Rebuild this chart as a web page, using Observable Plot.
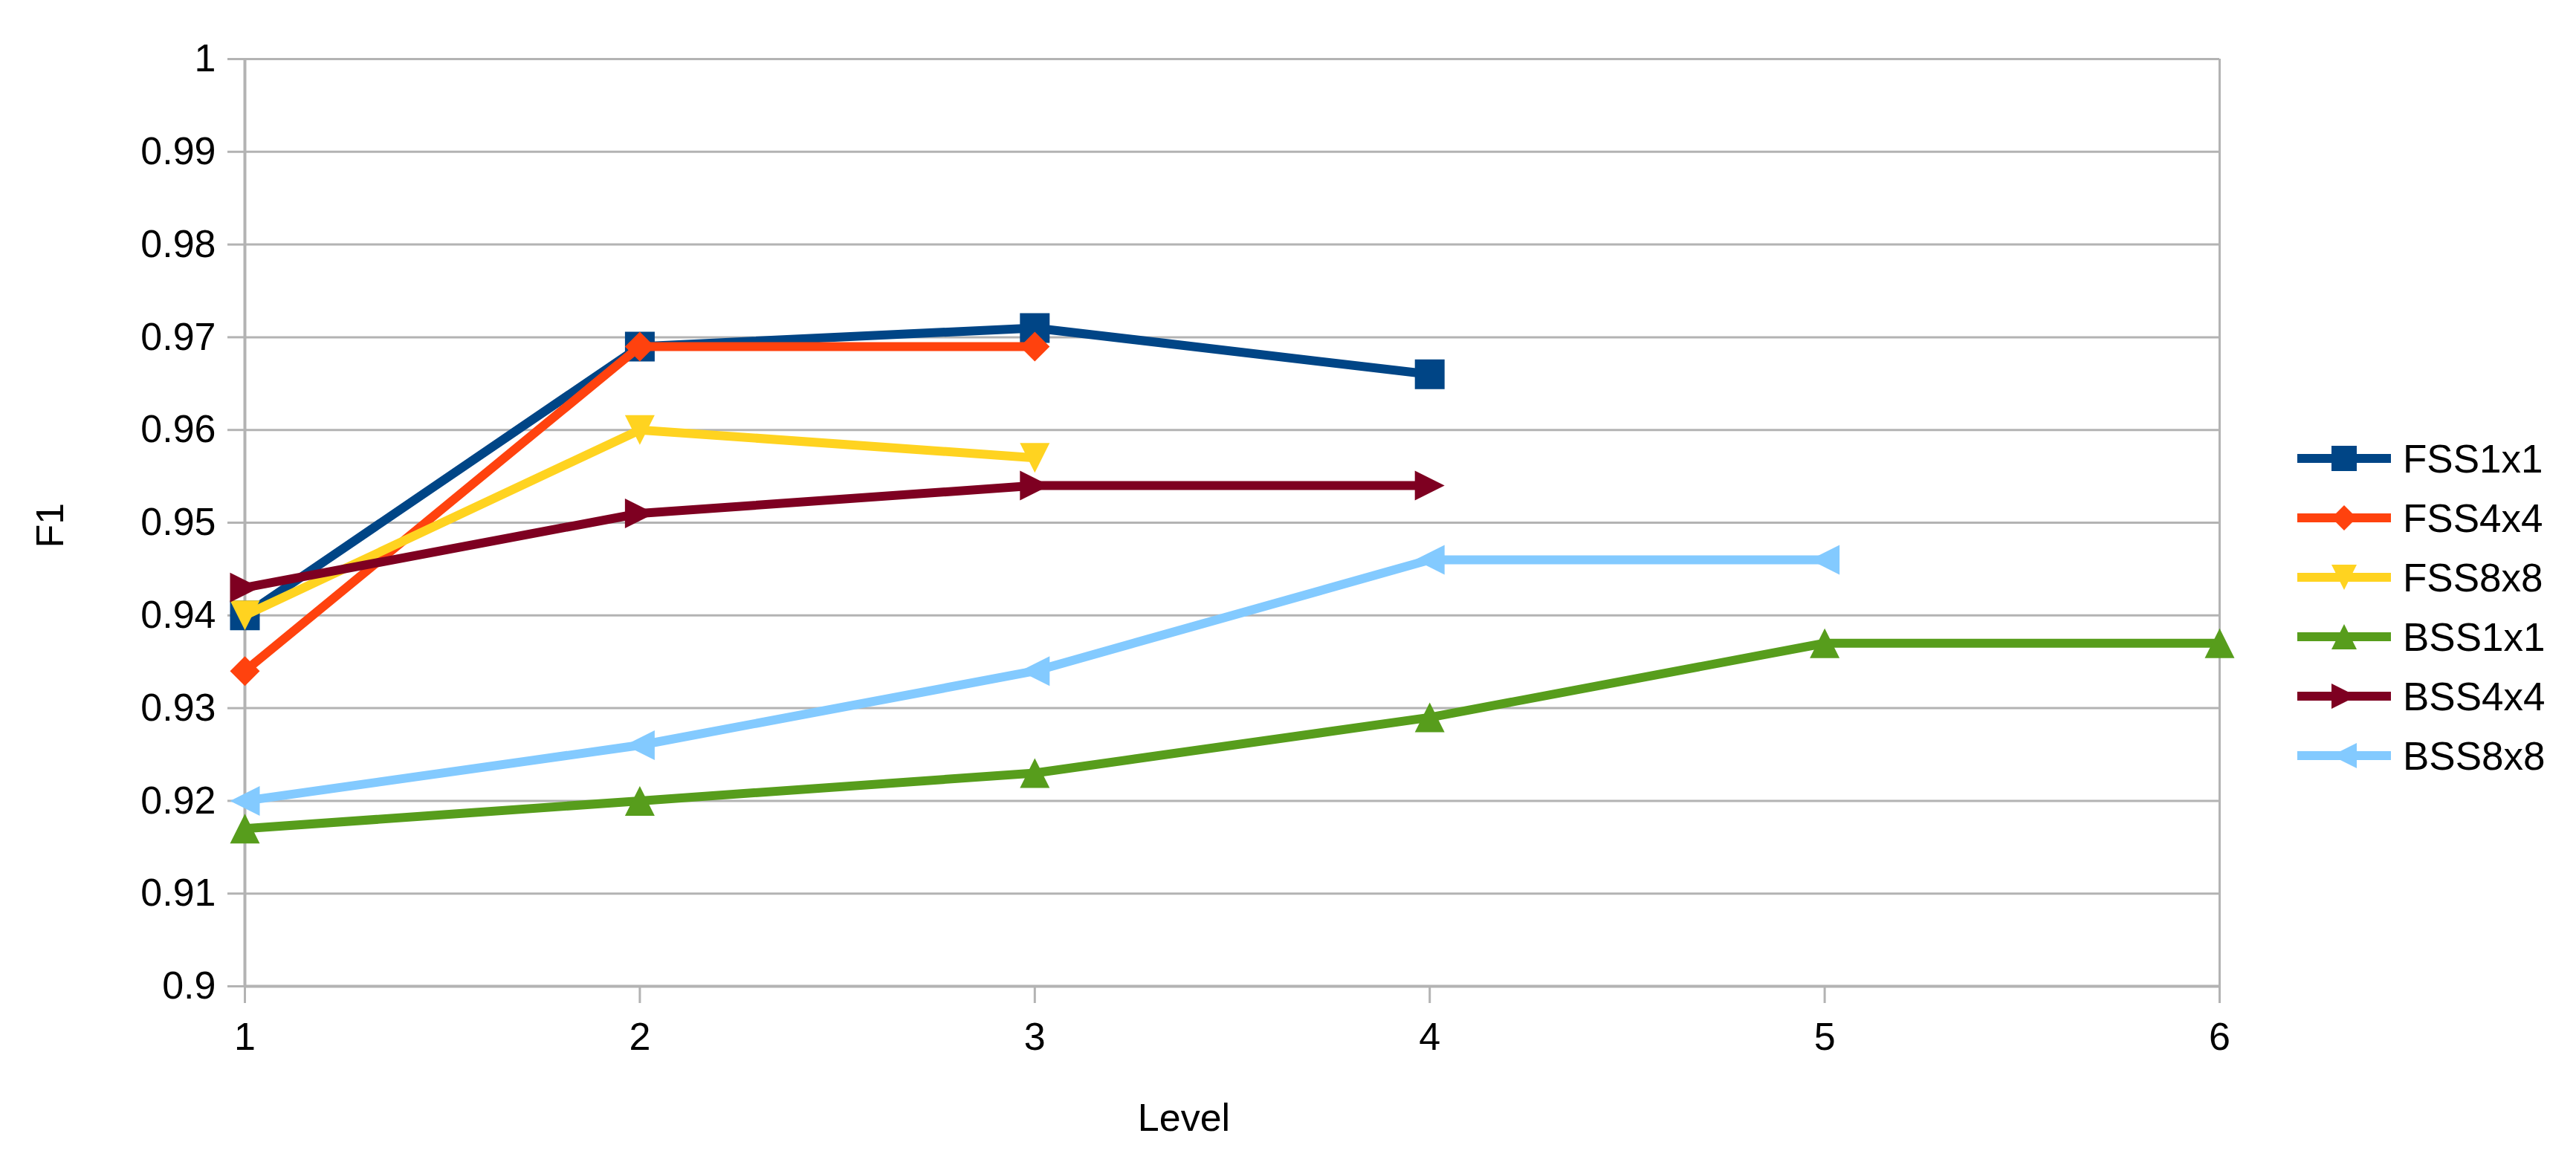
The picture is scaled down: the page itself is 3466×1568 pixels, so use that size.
<!DOCTYPE html>
<html><head><meta charset="utf-8">
<script src="https://cdn.jsdelivr.net/npm/d3@7"></script>
<script src="https://cdn.jsdelivr.net/npm/@observablehq/plot@0.6"></script>
<style>
html,body{margin:0;padding:0;background:#fff;width:3466px;height:1568px;overflow:hidden;font-family:"Liberation Sans",Arial,sans-serif;}
#chart{position:absolute;left:0;top:0;}
#legend{position:absolute;left:3091px;top:577px;}
.row{display:flex;align-items:center;height:80px;}
.row svg{display:block;}
.row span{font-size:53px;margin-left:16px;color:#000;line-height:1;}
</style></head><body>
<div id="chart"></div><div id="legend"></div>
<script>
const levels = [1, 2, 3, 4, 5, 6];
const yTicks = [0.9, 0.91, 0.92, 0.93, 0.94, 0.95, 0.96, 0.97, 0.98, 0.99, 1];
const yTickLabels = ["0.9", "0.91", "0.92", "0.93", "0.94", "0.95", "0.96", "0.97", "0.98", "0.99", "1"];
const seriesNames = ["FSS1x1", "FSS4x4", "FSS8x8", "BSS1x1", "BSS4x4", "BSS8x8"];
const seriesColors = ["#004586", "#ff420e", "#ffd320", "#579d1c", "#7e0021", "#83caff"];
const seriesShapes = ["square", "diamond", "down", "up", "right", "left"];
const FSS1x1 = [0.940, 0.969, 0.971, 0.966];
const FSS4x4 = [0.934, 0.969, 0.969];
const FSS8x8 = [0.940, 0.960, 0.957];
const BSS1x1 = [0.917, 0.920, 0.923, 0.929, 0.937, 0.937];
const BSS4x4 = [0.943, 0.951, 0.954, 0.954];
const BSS8x8 = [0.920, 0.926, 0.934, 0.946, 0.946];
const seriesValues = [FSS1x1, FSS4x4, FSS8x8, BSS1x1, BSS4x4, BSS8x8];

const rad = s => Math.sqrt(s / Math.PI);
const shapes = {
  square: {draw(c, s) { const r = rad(s); c.rect(-r, -r, 2 * r, 2 * r); }},
  diamond: {draw(c, s) { const r = rad(s); c.moveTo(0, -r); c.lineTo(r, 0); c.lineTo(0, r); c.lineTo(-r, 0); c.closePath(); }},
  down: {draw(c, s) { const r = rad(s); c.moveTo(-r, -r); c.lineTo(r, -r); c.lineTo(0, r); c.closePath(); }},
  up: {draw(c, s) { const r = rad(s); c.moveTo(0, -r); c.lineTo(r, r); c.lineTo(-r, r); c.closePath(); }},
  right: {draw(c, s) { const r = rad(s); c.moveTo(-r, -r); c.lineTo(r, 0); c.lineTo(-r, r); c.closePath(); }},
  left: {draw(c, s) { const r = rad(s); c.moveTo(r, -r); c.lineTo(-r, 0); c.lineTo(r, r); c.closePath(); }}
};

const grid = "#b3b3b3";
const seriesMarks = seriesNames.flatMap((name, k) => {
  const data = seriesValues[k].map((v, i) => ({level: levels[i], f1: v, series: name}));
  return [
    Plot.line(data, {x: "level", y: "f1", stroke: seriesColors[k], strokeWidth: 12, strokeLinejoin: "round"}),
    Plot.dot(data, {x: "level", y: "f1", symbol: shapes[seriesShapes[k]], r: 20, fill: seriesColors[k], stroke: "none"})
  ];
});

const chart = Plot.plot({
  width: 3466, height: 1568,
  marginLeft: 329, marginRight: 480, marginTop: 79, marginBottom: 241,
  x: {domain: [levels[0], levels[levels.length - 1]]},
  y: {domain: [yTicks[0], yTicks[yTicks.length - 1]]},
  style: {fontFamily: "Liberation Sans, Arial, sans-serif", fontSize: "52px", background: "white", color: "black", overflow: "visible"},
  marks: [
    Plot.gridY(yTicks, {stroke: grid, strokeOpacity: 1, strokeWidth: 3}),
    Plot.ruleX([levels[levels.length - 1]], {stroke: grid, strokeWidth: 3}),
    Plot.axisX(levels, {tickSize: 23, tickPadding: 26, stroke: grid, strokeWidth: 3, fill: "black", label: null, tickFormat: d => String(d), fontSize: 52}),
    Plot.axisY(yTicks, {tickSize: 23, tickPadding: 16, stroke: grid, strokeWidth: 3, fill: "black", label: null, tickFormat: d => yTickLabels[yTicks.indexOf(d)], fontSize: 52}),
    Plot.ruleX([levels[0]], {stroke: grid, strokeWidth: 4}),
    Plot.ruleY([yTicks[0]], {stroke: grid, strokeWidth: 4}),
    ...seriesMarks,
    Plot.text(["F1"], {frameAnchor: "left", dx: -261, dy: 34, rotate: -90, lineAnchor: "middle", fontSize: 52, fill: "black"}),
    Plot.text(["Level"], {frameAnchor: "bottom", dx: -65, dy: 178, lineAnchor: "middle", fontSize: 52, fill: "black"})
  ]
});
document.getElementById("chart").appendChild(chart);

// legend
const legend = d3.select("#legend");
seriesNames.forEach((name, k) => {
  const row = legend.append("div").attr("class", "row");
  const svg = row.append("svg").attr("width", 126).attr("height", 40);
  svg.append("line").attr("x1", 0).attr("x2", 126).attr("y1", 20).attr("y2", 20)
    .attr("stroke", seriesColors[k]).attr("stroke-width", 12);
  const p = d3.path();
  shapes[seriesShapes[k]].draw(p, Math.PI * 17 * 17);
  svg.append("path").attr("d", p.toString()).attr("transform", "translate(63,20)").attr("fill", seriesColors[k]);
  row.append("span").text(name);
});
</script>
</body></html>
